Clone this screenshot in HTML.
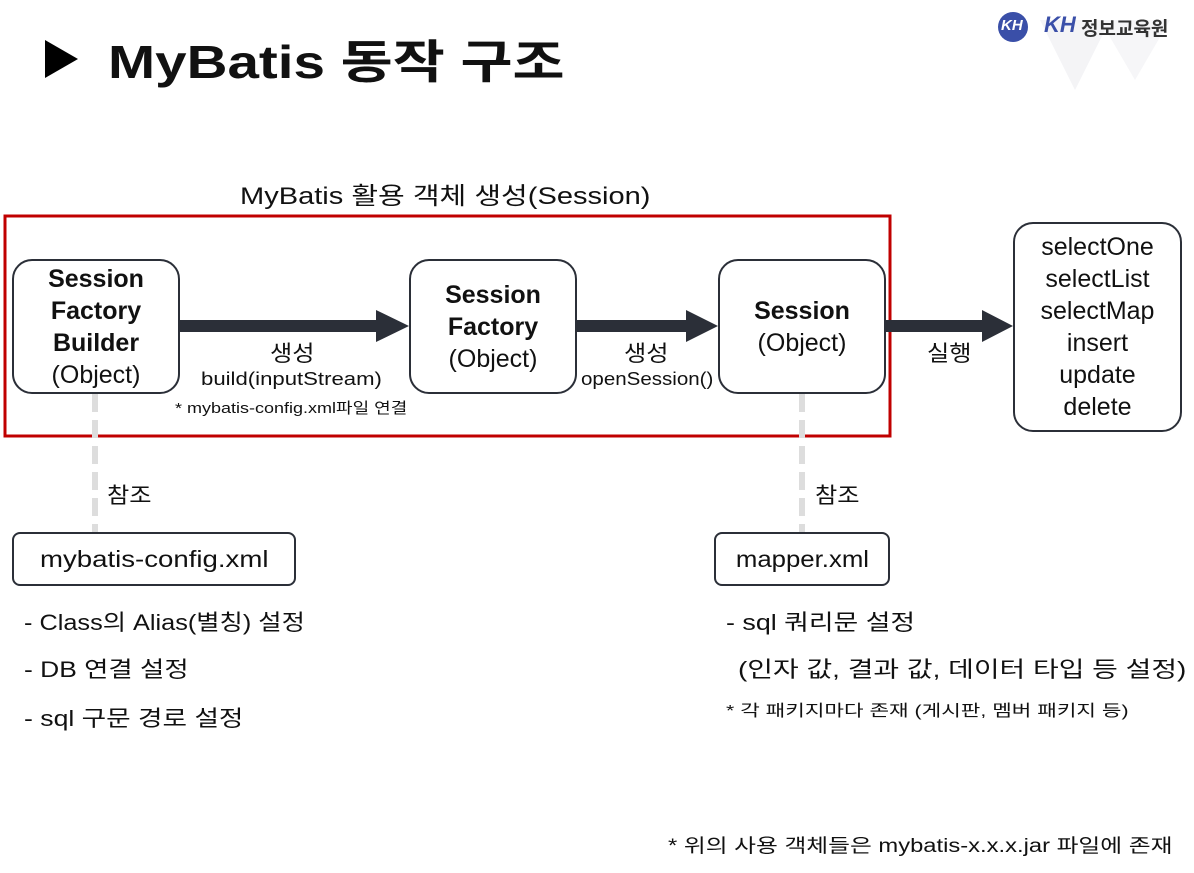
<!DOCTYPE html>
<html><head><meta charset="utf-8"><style>
body{margin:0;width:1194px;height:873px;background:#fff;position:relative;overflow:hidden;font-family:"Liberation Sans","Noto Sans CJK KR",sans-serif;color:#111}
.a{position:absolute;white-space:nowrap;transform-origin:0 0}
.box{position:absolute;border:2.5px solid #2b2f38;border-radius:20px;box-sizing:border-box;display:flex;flex-direction:column;justify-content:center;align-items:center;text-align:center;font-size:25px;line-height:32px}
.box b{font-weight:bold}
.c{transform-origin:50% 0}
</style></head><body>
<svg class="a" style="left:0;top:0" width="1194" height="873">
<polygon points="1040,20 1110,20 1075,90" fill="#f4f4f6"/>
<polygon points="1100,20 1170,20 1135,80" fill="#f6f6f8"/>
<polygon points="45,40 78,59 45,78" fill="#000"/>
<rect x="5" y="216" width="885" height="220" fill="none" stroke="#c00000" stroke-width="3"/>
<line x1="95" y1="394" x2="95" y2="532" stroke="#ddd" stroke-width="6" stroke-dasharray="18,8"/>
<line x1="802" y1="394" x2="802" y2="532" stroke="#ddd" stroke-width="6" stroke-dasharray="18,8"/>
<g fill="#2b2f38">
<rect x="180" y="320" width="200" height="12"/><polygon points="376,310 409,326 376,342"/>
<rect x="577" y="320" width="113" height="12"/><polygon points="686,310 718,326 686,342"/>
<rect x="886" y="320" width="100" height="12"/><polygon points="982,310 1013,326 982,342"/>
</g>
<circle cx="1013" cy="27" r="15" fill="#3a4fa8"/>
</svg>
<div class="a" style="left:1001px;top:17px;color:#fff;font-size:15px;font-style:italic;font-weight:bold">KH</div>
<div class="a" style="left:1044px;top:12px;color:#3a4fa8;font-size:22px;font-style:italic;font-weight:bold">KH</div>
<div class="a" style="left:1081px;top:14px;color:#333;font-size:19px;font-weight:bold">정보교육원</div>
<div class="a" style="left:108px;top:26px;font-size:46px;font-weight:bold;transform:scaleX(1.23)">MyBatis 동작 구조</div>
<div class="a" style="left:240px;top:176px;font-size:24px;transform:scaleX(1.21)">MyBatis 활용 객체 생성(Session)</div>
<div class="box" style="left:12px;top:259px;width:168px;height:135px"><b>Session</b><b>Factory</b><b>Builder</b><span>(Object)</span></div>
<div class="box" style="left:409px;top:259px;width:168px;height:135px"><b>Session</b><b>Factory</b><span>(Object)</span></div>
<div class="box" style="left:718px;top:259px;width:168px;height:135px"><b>Session</b><span>(Object)</span></div>
<div class="box" style="left:1013px;top:222px;width:169px;height:210px;line-height:32px">selectOne<br>selectList<br>selectMap<br>insert<br>update<br>delete</div>
<div class="a" style="left:270px;top:336px;font-size:22px;transform:scaleX(1.1)">생성</div>
<div class="a" style="left:201px;top:369px;font-size:18px;transform:scaleX(1.23)">build(inputStream)</div>
<div class="a" style="left:175px;top:397px;font-size:15px;transform:scaleX(1.2)">* mybatis-config.xml파일 연결</div>
<div class="a" style="left:624px;top:336px;font-size:22px;transform:scaleX(1.1)">생성</div>
<div class="a" style="left:581px;top:369px;font-size:18px;transform:scaleX(1.14)">openSession()</div>
<div class="a" style="left:927px;top:336px;font-size:22px;transform:scaleX(1.1)">실행</div>
<div class="a" style="left:107px;top:478px;font-size:22px;transform:scaleX(1.1)">참조</div>
<div class="a" style="left:815px;top:478px;font-size:22px;transform:scaleX(1.1)">참조</div>
<div class="box" style="left:12px;top:532px;width:284px;height:54px;border-radius:8px;font-size:23px"><span style="display:inline-block;transform:scaleX(1.2)">mybatis-config.xml</span></div>
<div class="box" style="left:714px;top:532px;width:176px;height:54px;border-radius:8px;font-size:23px"><span style="display:inline-block;transform:scaleX(1.12)">mapper.xml</span></div>
<div class="a" style="left:24px;top:605px;font-size:22px;transform:scaleX(1.15)">- Class의 Alias(별칭) 설정</div>
<div class="a" style="left:24px;top:652px;font-size:22px;transform:scaleX(1.2)">- DB 연결 설정</div>
<div class="a" style="left:24px;top:701px;font-size:22px;transform:scaleX(1.21)">- sql 구문 경로 설정</div>
<div class="a" style="left:726px;top:605px;font-size:22px;transform:scaleX(1.22)">- sql 쿼리문 설정</div>
<div class="a" style="left:738px;top:652px;font-size:22px;transform:scaleX(1.27)">(인자 값, 결과 값, 데이터 타입 등 설정)</div>
<div class="a" style="left:726px;top:697px;font-size:16px;transform:scaleX(1.33)">* 각 패키지마다 존재 (게시판, 멤버 패키지 등)</div>
<div class="a" style="left:668px;top:831px;font-size:19px;transform:scaleX(1.25)">* 위의 사용 객체들은 mybatis-x.x.x.jar 파일에 존재</div>
</body></html>
